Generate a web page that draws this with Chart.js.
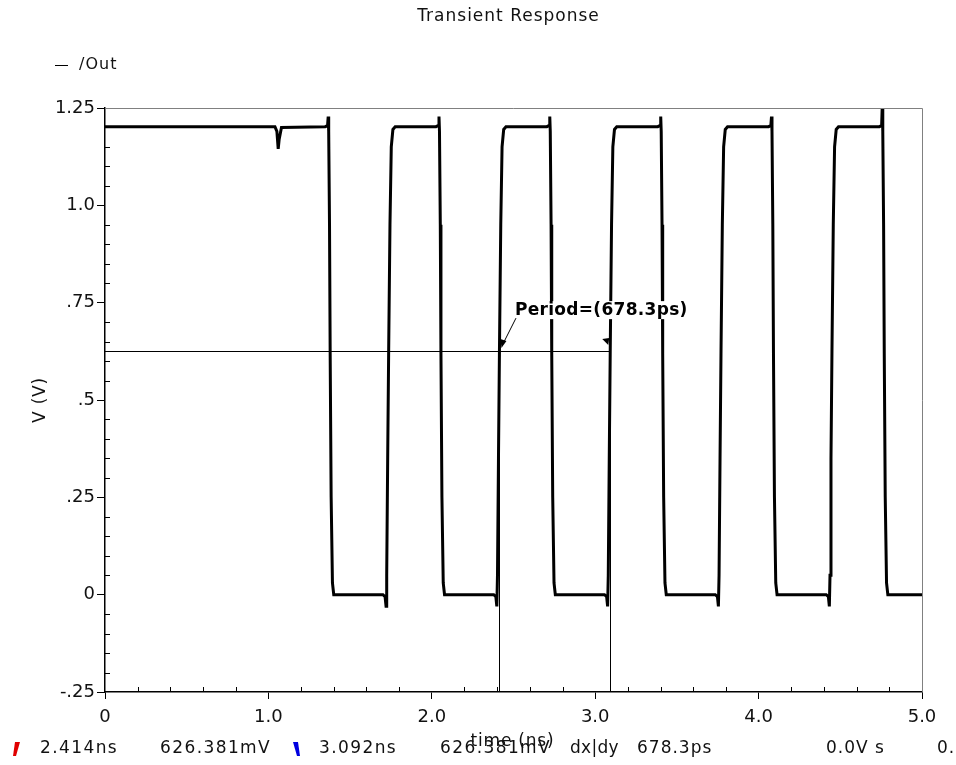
<!DOCTYPE html>
<html>
<head>
<meta charset="utf-8">
<title>Transient Response</title>
<script src="https://cdn.jsdelivr.net/npm/chart.js@4.4.1/dist/chart.umd.min.js"></script>
<style>
  html, body { margin: 0; padding: 0; background: #fff; }
  #wrap { width: 956px; height: 765px; }
</style>
</head>
<body>
<div id="wrap"><canvas id="tran"></canvas></div>
<script>
// Transient waveform of /Out, time in ns, voltage in V
const timeNs = [
  0.000, 1.040, 1.052, 1.060, 1.066, 1.080,
  1.348, 1.362, 1.366, 1.369, 1.374, 1.378, 1.384, 1.392, 1.400,
  1.701, 1.714, 1.720, 1.724, 1.730, 1.736, 1.744, 1.752, 1.762, 1.776,
  2.026, 2.040, 2.044, 2.047, 2.052, 2.056, 2.062, 2.070, 2.078,
  2.379, 2.392, 2.398, 2.402, 2.408, 2.414, 2.422, 2.430, 2.440, 2.454,
  2.704, 2.718, 2.722, 2.725, 2.730, 2.734, 2.740, 2.748, 2.756,
  3.057, 3.070, 3.076, 3.080, 3.086, 3.092, 3.100, 3.108, 3.118, 3.132,
  3.383, 3.397, 3.401, 3.404, 3.409, 3.413, 3.419, 3.427, 3.435,
  3.735, 3.748, 3.754, 3.758, 3.764, 3.770, 3.778, 3.786, 3.796, 3.810,
  4.061, 4.075, 4.079, 4.082, 4.087, 4.091, 4.097, 4.105, 4.113,
  4.414, 4.427, 4.433, 4.437, 4.443, 4.449, 4.457, 4.465, 4.475, 4.489,
  4.739, 4.753, 4.757, 4.760, 4.765, 4.769, 4.775, 4.783, 4.791,
  5.000
];
const voltsV = [
  1.202, 1.202, 1.190, 1.145, 1.170, 1.200,
  1.202, 1.205, 1.228, 1.190, 0.950, 0.620, 0.250, 0.030, 0.000,
  0.000, -0.005, -0.030, 0.050, 0.350, 0.626, 0.950, 1.150, 1.195, 1.202,
  1.202, 1.205, 1.228, 1.190, 0.950, 0.620, 0.250, 0.030, 0.000,
  0.000, -0.005, -0.030, 0.050, 0.350, 0.626, 0.950, 1.150, 1.195, 1.202,
  1.202, 1.205, 1.228, 1.190, 0.950, 0.620, 0.250, 0.030, 0.000,
  0.000, -0.005, -0.030, 0.050, 0.350, 0.626, 0.950, 1.150, 1.195, 1.202,
  1.202, 1.205, 1.228, 1.190, 0.950, 0.620, 0.250, 0.030, 0.000,
  0.000, -0.005, -0.030, 0.050, 0.350, 0.626, 0.950, 1.150, 1.195, 1.202,
  1.202, 1.205, 1.228, 1.190, 0.950, 0.620, 0.250, 0.030, 0.000,
  0.000, -0.005, -0.030, 0.050, 0.350, 0.626, 0.950, 1.150, 1.195, 1.202,
  1.202, 1.205, 1.260, 1.190, 0.950, 0.620, 0.250, 0.030, 0.000,
  0.000
];

// Axis ticks
const xTickLabels = ['0', '1.0', '2.0', '3.0', '4.0', '5.0'];
const yTickLabels = ['-.25', '0', '.25', '.5', '.75', '1.0', '1.25'];

// Period measurement cursors
const cursorTimes = [2.414, 3.092];
const cursorLevel = 0.626;
const periodLabel = 'Period=(678.3ps)';
const statusItems = [
  ['2.414ns', 40, 1.4], ['626.381mV', 160, 1.4], ['3.092ns', 319, 1.4],
  ['626.381mV', 440, 1.4], ['dx|dy', 570, 0.3], ['678.3ps', 637, 1.0],
  ['0.0V s', 826, 1.0], ['0.', 937, 1.0]
];

const FONT = '"DejaVu Sans", sans-serif';

function spaced(ctx, font, spacing) {
  ctx.font = font;
  ctx.letterSpacing = spacing + 'px';
}

// Draw title, legend, axis titles, cursors, minor ticks and status line
const scopeDecor = {
  id: 'scopeDecor',
  beforeDatasetsDraw(chart) {
    const { ctx, chartArea: a, scales: { x, y } } = chart;
    ctx.save();
    // cursor lines
    ctx.strokeStyle = '#000';
    ctx.lineWidth = 1;
    const yc = Math.round(y.getPixelForValue(cursorLevel)) + 0.5;
    ctx.beginPath();
    ctx.moveTo(a.left, yc);
    ctx.lineTo(x.getPixelForValue(cursorTimes[1]), yc);
    cursorTimes.forEach(t => {
      const xc = Math.round(x.getPixelForValue(t)) + 0.5;
      ctx.moveTo(xc, a.bottom);
      ctx.lineTo(xc, yc);
    });
    ctx.stroke();
    ctx.restore();
  },
  afterDraw(chart) {
    const { ctx, chartArea: a, scales: { x, y } } = chart;
    ctx.save();

    // frame: top and right in grey
    ctx.strokeStyle = '#808080';
    ctx.lineWidth = 1;
    ctx.beginPath();
    ctx.moveTo(a.left, a.top + 0.5);
    ctx.lineTo(a.right + 0.5, a.top + 0.5);
    ctx.lineTo(a.right + 0.5, a.bottom);
    ctx.stroke();

    // minor ticks inside the plot
    ctx.strokeStyle = '#000';
    ctx.beginPath();
    for (let i = 1; i < 25; i++) {
      if (i % 5 === 0) continue;
      const px = Math.round(x.getPixelForValue(i * 0.2)) + 0.5;
      ctx.moveTo(px, a.bottom);
      ctx.lineTo(px, a.bottom - 5);
    }
    for (let i = 1; i < 30; i++) {
      if (i % 5 === 0) continue;
      const py = Math.round(y.getPixelForValue(-0.25 + i * 0.05)) + 0.5;
      ctx.moveTo(a.left, py);
      ctx.lineTo(a.left + 5, py);
    }
    ctx.stroke();

    ctx.fillStyle = '#111';
    ctx.textBaseline = 'middle';

    // title
    spaced(ctx, '17px ' + FONT, 1);
    ctx.textAlign = 'center';
    ctx.fillText('Transient Response', (a.left + a.right) / 2 - 5, 17);

    // legend
    ctx.textAlign = 'left';
    spaced(ctx, '16px ' + FONT, 1);
    ctx.beginPath();
    ctx.moveTo(55, 65.5);
    ctx.lineTo(68, 65.5);
    ctx.stroke();
    ctx.fillText('/Out', 79, 65);

    // axis titles
    spaced(ctx, '17px ' + FONT, 0.8);
    ctx.textAlign = 'center';
    ctx.fillText('time (ns)', (a.left + a.right) / 2 - 1, 742);
    ctx.save();
    ctx.translate(41, (a.top + a.bottom) / 2);
    ctx.rotate(-Math.PI / 2);
    ctx.fillText('V (V)', 0, 0);
    ctx.restore();

    // period annotation (opaque label)
    const lx = x.getPixelForValue(2.509);
    const ly = y.getPixelForValue(0.718);
    spaced(ctx, 'bold 17px ' + FONT, 0.3);
    ctx.textAlign = 'left';
    ctx.textBaseline = 'alphabetic';
    const tw = ctx.measureText(periodLabel).width;
    ctx.fillStyle = '#fff';
    ctx.fillRect(lx - 1, ly - 14, tw + 2, 18);
    ctx.fillStyle = '#000';
    ctx.fillText(periodLabel, lx, ly);
    const ax = x.getPixelForValue(cursorTimes[0]) + 3;
    const ay = y.getPixelForValue(cursorLevel) - 6;
    ctx.beginPath();
    ctx.moveTo(lx + 1, ly + 3);
    ctx.lineTo(ax, ay);
    ctx.stroke();
    ctx.beginPath();
    ctx.moveTo(ax - 1, ay + 3);
    ctx.lineTo(ax - 2, ay - 6);
    ctx.lineTo(ax + 4, ay - 4);
    ctx.closePath();
    ctx.fill();
    const bx = x.getPixelForValue(cursorTimes[1]) - 2;
    const by = ay - 4;
    ctx.beginPath();
    ctx.moveTo(bx, by + 4);
    ctx.lineTo(bx - 6, by - 2);
    ctx.lineTo(bx + 1, by - 3);
    ctx.closePath();
    ctx.fill();

    // status line
    ctx.textBaseline = 'middle';
    ctx.fillStyle = '#111';
    statusItems.forEach(([txt, px, sp]) => {
      spaced(ctx, '17px ' + FONT, sp);
      ctx.fillText(txt, px, 749);
    });
    // cursor markers
    ctx.fillStyle = '#e00000';
    ctx.beginPath();
    ctx.moveTo(15, 742); ctx.lineTo(20, 742); ctx.lineTo(16, 756); ctx.lineTo(13, 756);
    ctx.closePath(); ctx.fill();
    ctx.fillStyle = '#0000e0';
    ctx.beginPath();
    ctx.moveTo(293, 742); ctx.lineTo(298, 742); ctx.lineTo(300, 756); ctx.lineTo(297, 756);
    ctx.closePath(); ctx.fill();

    ctx.restore();
  }
};

new Chart(document.getElementById('tran'), {
  type: 'line',
  data: {
    datasets: [{
      label: '/Out',
      data: timeNs.map((t, i) => ({ x: t, y: voltsV[i] })),
      borderColor: '#000',
      borderWidth: 3,
      pointRadius: 0,
      tension: 0,
      fill: false
    }]
  },
  options: {
    responsive: true,
    maintainAspectRatio: false,
    animation: false,
    layout: { padding: { top: 108, right: 34, bottom: 0, left: 0 } },
    plugins: {
      title: { display: false },
      legend: { display: false },
      tooltip: { enabled: false }
    },
    scales: {
      x: {
        type: 'linear',
        min: 0,
        max: 5,
        afterFit(scale) { scale.height = 73; },
        afterBuildTicks(scale) {
          scale.ticks = xTickLabels.map((l, i) => ({ value: i }));
        },
        ticks: {
          callback: (v, i) => xTickLabels[i],
          font: { family: FONT, size: 18 },
          color: '#111',
          padding: 8,
          maxRotation: 0
        },
        grid: { drawOnChartArea: false, tickLength: 7, color: '#000', tickColor: '#000' },
        border: { color: '#000', width: 1.5 }
      },
      y: {
        type: 'linear',
        min: -0.25,
        max: 1.25,
        afterFit(scale) { scale.width = 105; },
        afterBuildTicks(scale) {
          scale.ticks = yTickLabels.map((l, i) => ({ value: -0.25 + i * 0.25 }));
        },
        ticks: {
          callback: (v, i) => yTickLabels[i],
          font: { family: FONT, size: 18 },
          color: '#111',
          padding: 2
        },
        grid: { drawOnChartArea: false, tickLength: 8, color: '#000', tickColor: '#000' },
        border: { color: '#000', width: 1.5 }
      }
    }
  },
  plugins: [scopeDecor]
});
</script>
</body>
</html>
